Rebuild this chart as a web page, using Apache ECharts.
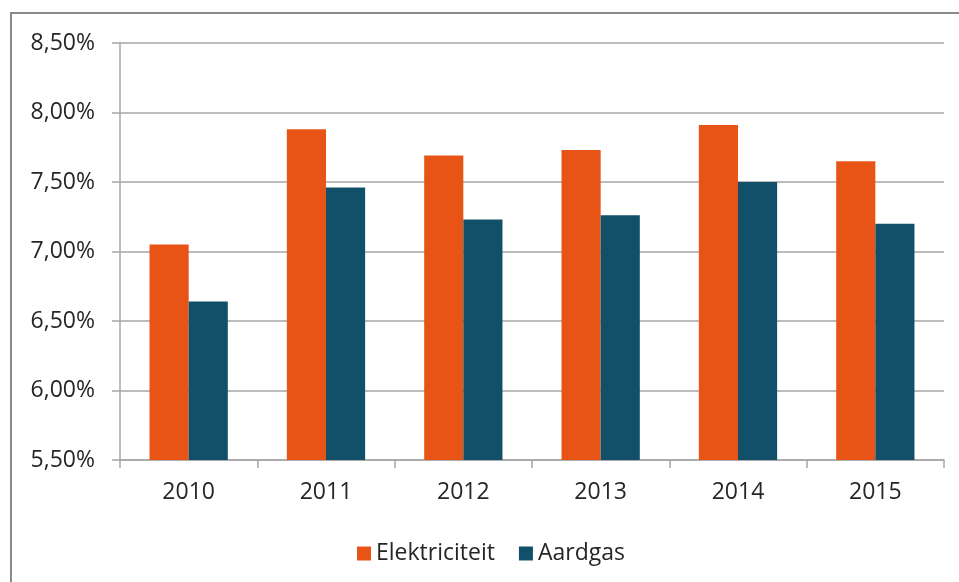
<!DOCTYPE html>
<html>
<head>
    <meta charset="UTF-8" />
    <script src="https://cdn.jsdelivr.net/npm/echarts@6/dist/echarts.min.js"></script>
    <style>
        html, body { margin: 0; padding: 0; background: #fff; }
    </style>
</head>
<body>
    <div id="chart" style="width:959px;height:582px"></div>

    <script type="text/javascript">
        // data
        var years = ['2010', '2011', '2012', '2013', '2014', '2015'];
        var elektriciteit = [7.05, 7.88, 7.69, 7.73, 7.91, 7.65];
        var aardgas = [6.64, 7.46, 7.23, 7.26, 7.50, 7.20];
        var seriesNames = ['Elektriciteit', 'Aardgas'];

        var chart = echarts.init(document.getElementById('chart'));

        var font = '"Open Sans", "Noto Sans", sans-serif';
        var gray = '#a6a6a6';

        var option = {
            animation: false,
            color: ['#e85416', '#125069'],
            textStyle: { fontFamily: font },
            graphic: [{
                type: 'rect',
                shape: { x: 11, y: 13, width: 1000, height: 700 },
                style: { fill: 'none', stroke: '#8a8a8a', lineWidth: 2 }
            }],
            legend: {
                data: seriesNames,
                left: 352,
                top: 537,
                itemWidth: 14,
                itemHeight: 14,
                itemGap: 24,
                icon: 'rect',
                textStyle: { fontFamily: font, fontSize: 23, color: '#262626' }
            },
            grid: {
                left: 120,
                right: 15,
                top: 43,
                bottom: 122
            },
            xAxis: {
                type: 'category',
                data: years,
                axisLine: { lineStyle: { color: gray, width: 1.5 } },
                axisTick: { show: true, length: 8, lineStyle: { color: gray, width: 1.5 } },
                axisLabel: { fontFamily: font, fontSize: 23, color: '#262626', margin: 21 }
            },
            yAxis: {
                type: 'value',
                min: 5.5,
                max: 8.5,
                interval: 0.5,
                axisLine: { show: true, lineStyle: { color: gray, width: 1.5 } },
                axisTick: { show: true, length: 8, lineStyle: { color: gray, width: 1.5 } },
                splitLine: { lineStyle: { color: gray, width: 1.5 } },
                axisLabel: {
                    fontFamily: font,
                    fontSize: 23,
                    color: '#262626',
                    margin: 25,
                    formatter: function (v) { return v.toFixed(2).replace('.', ',') + '%'; }
                }
            },
            series: [{
                name: seriesNames[0],
                type: 'bar',
                barGap: '0%',
                barCategoryGap: '43%',
                data: elektriciteit
            }, {
                name: seriesNames[1],
                type: 'bar',
                barGap: '0%',
                barCategoryGap: '43%',
                data: aardgas
            }]
        };

        chart.setOption(option);
    </script>
</body>
</html>
